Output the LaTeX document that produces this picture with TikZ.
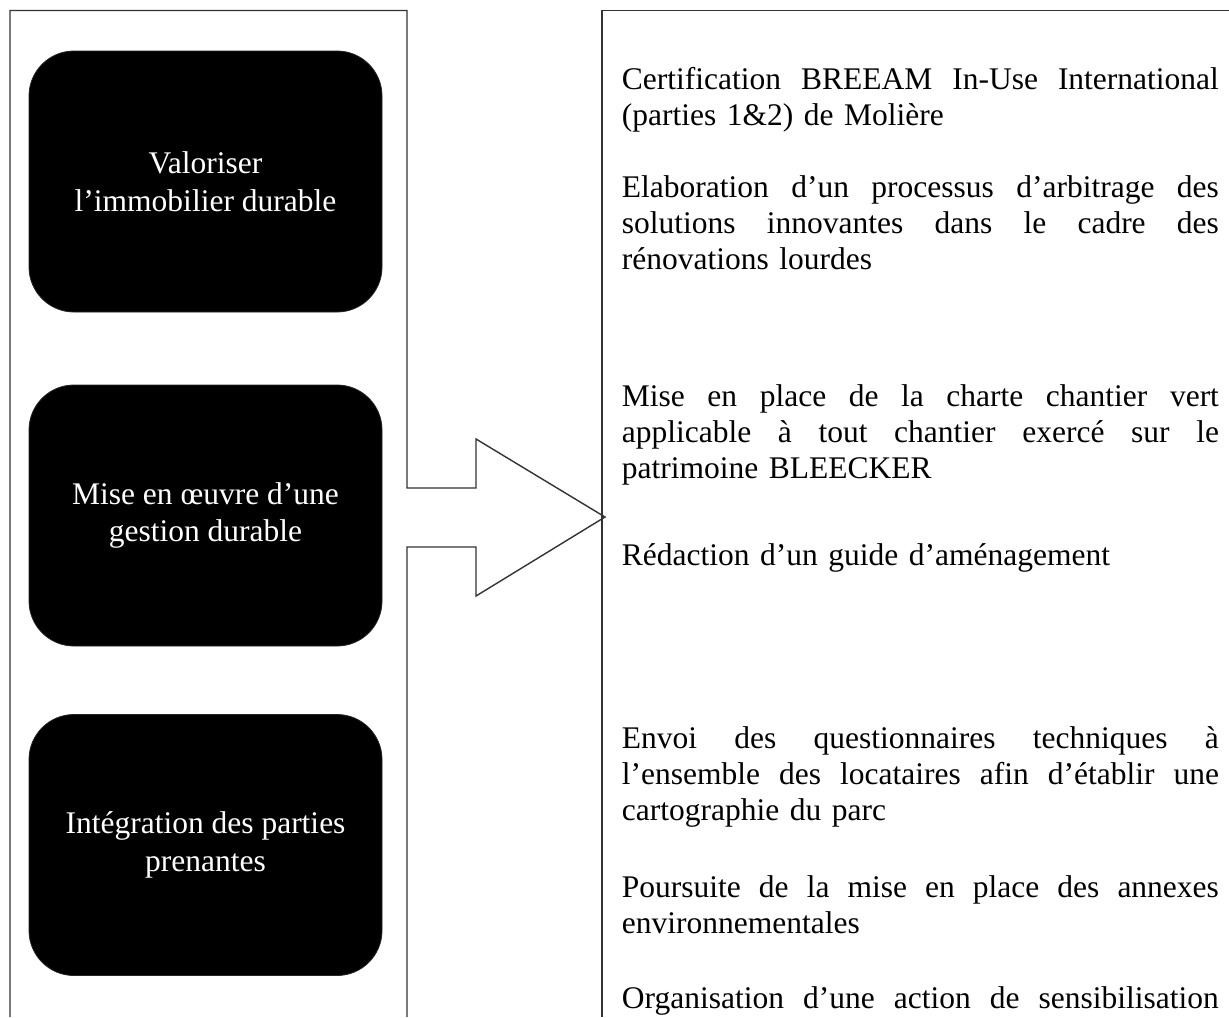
\documentclass[tikz,border=0pt]{standalone}
\usepackage{fontspec}
\setmainfont{Liberation Serif}
\newcommand{\jl}[1]{\leavevmode\hbox to 298.5pt{#1}}
\newcommand{\wsp}{\hskip 0pt plus 1fil\relax}
\begin{document}
\begin{tikzpicture}[x=0.5pt,y=-0.5pt,
  panel/.style={draw=black!80, line width=0.7pt, line join=miter},
  goalbox/.style={rectangle, rounded corners=22.5pt, fill=black, draw=black!85,
    minimum width=176.5pt, minimum height=130.5pt, inner sep=0pt,
    text=white, align=center, font=\fontsize{15.75pt}{18.75pt}\selectfont},
  actiontext/.style={anchor=base west, inner sep=0pt, text width=298.5pt,
    align=left, font=\fontsize{15.75pt}{18pt}\selectfont}]
\useasboundingbox (0,0) rectangle (1229,1017);
\fill[white] (0,0) rectangle (1229,1017);

% left panel with block arrow
\coordinate (pl1) at (10,1017);
\coordinate (pl2) at (10,10.5);
\coordinate (pl3) at (407,10.5);
\coordinate (ar1) at (407,488);
\coordinate (ar2) at (476,488);
\coordinate (ar3) at (476,439);
\coordinate (tip) at (605,517);
\coordinate (ar4) at (476,596);
\coordinate (ar5) at (476,547);
\coordinate (ar6) at (407,547);
\coordinate (pl4) at (407,1017);
\draw[panel] (pl1) -- (pl2) -- (pl3) -- (ar1) -- (ar2) -- (ar3) -- (tip)
  -- (ar4) -- (ar5) -- (ar6) -- (pl4);

% right panel
\coordinate (pr1) at (1229,10.5);
\coordinate (pr2) at (602,10.5);
\coordinate (pr3) at (602,1017);
\draw[panel] (pr1) -- (pr2) -- (pr3);

% goal boxes
\node[goalbox] (g1) at (205.5,181.5) {Valoriser\\l’immobilier durable};
\node[goalbox] (g2) at (205.5,515.5) {Mise en œuvre d’une\\gestion durable};
\node[goalbox] (g3) at (205.5,845) {Intégration des parties\\prenantes};

% actions
\node[actiontext] (a1) at (621.5,89)
  {\jl{Certification\wsp BREEAM\wsp In-Use\wsp International}\\(parties 1\&2) de Molière};
\node[actiontext] (a2) at (621.5,197)
  {\jl{Elaboration\wsp d’un\wsp processus\wsp d’arbitrage\wsp des}\\\jl{solutions\wsp innovantes\wsp dans\wsp le\wsp cadre\wsp des}\\rénovations lourdes};
\node[actiontext] (a3) at (621.5,406)
  {\jl{Mise\wsp en\wsp place\wsp de\wsp la\wsp charte\wsp chantier\wsp vert}\\\jl{applicable\wsp à\wsp tout\wsp chantier\wsp exercé\wsp sur\wsp le}\\patrimoine BLEECKER};
\node[actiontext] (a4) at (621.5,565)
  {Rédaction d’un guide d’aménagement};
\node[actiontext] (a5) at (621.5,748)
  {\jl{Envoi\wsp des\wsp questionnaires\wsp techniques\wsp à}\\\jl{l’ensemble\wsp des\wsp locataires\wsp afin\wsp d’établir\wsp une}\\cartographie du parc};
\node[actiontext] (a6) at (621.5,897)
  {\jl{Poursuite\wsp de\wsp la\wsp mise\wsp en\wsp place\wsp des\wsp annexes}\\environnementales};
\node[actiontext] (a7) at (621.5,1008)
  {\jl{Organisation\wsp d’une\wsp action\wsp de\wsp sensibilisation}};
\end{tikzpicture}
\end{document}
